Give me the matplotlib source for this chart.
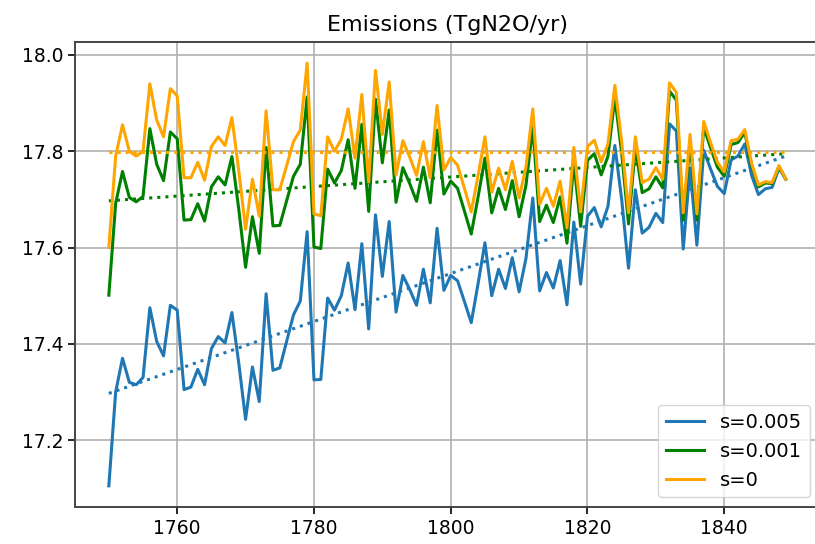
import numpy as np
import matplotlib
matplotlib.use("Agg")
import matplotlib.pyplot as plt

years = list(range(1750, 1850))

# s=0 (orange)
emis_s0 = [
    17.600, 17.790, 17.855, 17.800, 17.790, 17.800, 17.940, 17.865, 17.830, 17.930,
    17.915, 17.745, 17.745, 17.777, 17.740, 17.810, 17.830, 17.812, 17.870, 17.760,
    17.638, 17.742, 17.665, 17.884, 17.720, 17.720, 17.770, 17.820, 17.844, 17.983,
    17.670, 17.666, 17.830, 17.800, 17.825, 17.888, 17.786, 17.918, 17.736, 17.968,
    17.835, 17.944, 17.751, 17.822, 17.788, 17.750, 17.820, 17.745, 17.895, 17.761,
    17.787, 17.771, 17.723, 17.674, 17.750, 17.830, 17.715, 17.765, 17.720, 17.779,
    17.703, 17.767, 17.888, 17.690, 17.723, 17.686, 17.738, 17.641, 17.808, 17.674,
    17.810, 17.823, 17.778, 17.816, 17.937, 17.820, 17.672, 17.830, 17.735, 17.742,
    17.766, 17.742, 17.942, 17.922, 17.672, 17.835, 17.670, 17.862, 17.818, 17.777,
    17.757, 17.822, 17.825, 17.845, 17.775, 17.730, 17.737, 17.735, 17.770, 17.742,
]

# s=0.001 (green)
emis_s001 = [
    17.501, 17.692, 17.758, 17.704, 17.695, 17.706, 17.847, 17.773, 17.739, 17.840,
    17.826, 17.657, 17.658, 17.691, 17.655, 17.726, 17.747, 17.730, 17.789, 17.680,
    17.559, 17.664, 17.588, 17.808, 17.645, 17.646, 17.697, 17.748, 17.773, 17.913,
    17.601, 17.598, 17.763, 17.734, 17.760, 17.824, 17.723, 17.856, 17.675, 17.908,
    17.776, 17.886, 17.694, 17.766, 17.733, 17.696, 17.767, 17.693, 17.844, 17.711,
    17.738, 17.723, 17.676, 17.628, 17.705, 17.786, 17.672, 17.723, 17.679, 17.739,
    17.664, 17.729, 17.851, 17.654, 17.688, 17.652, 17.705, 17.609, 17.777, 17.644,
    17.781, 17.795, 17.751, 17.790, 17.912, 17.796, 17.649, 17.808, 17.714, 17.722,
    17.747, 17.724, 17.925, 17.906, 17.657, 17.821, 17.657, 17.850, 17.807, 17.767,
    17.748, 17.814, 17.818, 17.839, 17.770, 17.726, 17.734, 17.733, 17.769, 17.742,
]

# s=0.005 (blue)
emis_s005 = [
    17.105, 17.300, 17.370, 17.320, 17.315, 17.330, 17.475, 17.405, 17.375, 17.480,
    17.470, 17.305, 17.310, 17.347, 17.315, 17.390, 17.415, 17.402, 17.465, 17.360,
    17.243, 17.352, 17.280, 17.504, 17.345, 17.350, 17.405, 17.460, 17.489, 17.633,
    17.325, 17.326, 17.495, 17.470, 17.500, 17.568, 17.471, 17.608, 17.431, 17.668,
    17.540, 17.654, 17.466, 17.542, 17.513, 17.480, 17.555, 17.485, 17.640, 17.511,
    17.542, 17.531, 17.488, 17.444, 17.525, 17.610, 17.500, 17.555, 17.515, 17.579,
    17.508, 17.577, 17.703, 17.510, 17.548, 17.516, 17.573, 17.481, 17.653, 17.524,
    17.665, 17.683, 17.643, 17.686, 17.812, 17.700, 17.557, 17.720, 17.630, 17.642,
    17.671, 17.652, 17.857, 17.842, 17.597, 17.765, 17.605, 17.802, 17.763, 17.727,
    17.712, 17.782, 17.790, 17.815, 17.750, 17.710, 17.722, 17.725, 17.765, 17.742,
]

# dotted trend lines: value at first and last year
trend_years = [1750, 1849]
trend_s005 = [17.297, 17.790]
trend_s001 = [17.697, 17.795]
trend_s0 = [17.799, 17.799]

labels = ["s=0.005", "s=0.001", "s=0"]
colors = ["#1f77b4", "green", "orange"]

fig = plt.figure(figsize=(8.15, 5.44), dpi=100)
ax = fig.add_axes([0.092, 0.068, 0.9137, 0.8548])

series = [emis_s005, emis_s001, emis_s0]
trends = [trend_s005, trend_s001, trend_s0]
for vals, tr, lab, c in zip(series, trends, labels, colors):
    ax.plot(years, vals, color=c, lw=2.2, label=lab)
    ax.plot(trend_years, tr, color=c, lw=2.2, ls=":")

ax.set_xlim(1745.05, 1853.95)
ax.set_ylim(17.061, 18.027)
ax.set_yticks([17.2, 17.4, 17.6, 17.8, 18.0])
ax.set_xticks([1760, 1780, 1800, 1820, 1840])
ax.grid(True, color="#b0b0b0", lw=1.2)
ax.tick_params(labelsize=13.5, length=5, width=1.2)
for sp in ax.spines.values():
    sp.set_color("#444444")
    sp.set_linewidth(1.4)
ax.set_title("Emissions (TgN2O/yr)", fontsize=16, pad=8)
ax.legend(loc="lower right", fontsize=14)

fig.savefig("out.png", dpi=100)
